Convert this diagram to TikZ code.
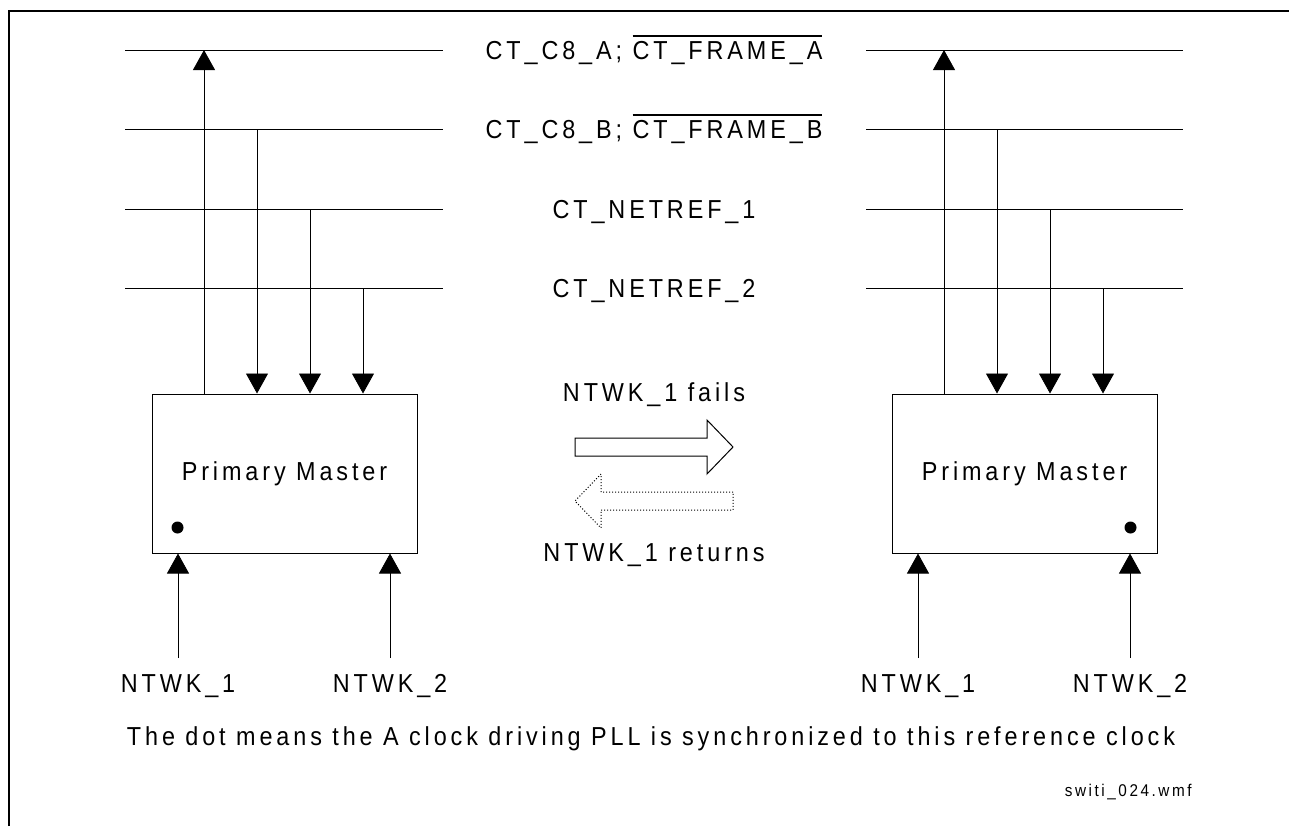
\documentclass[tikz,border=0pt]{standalone}
\usepackage{fontspec}
\setmainfont{Liberation Sans}[FakeStretch=0.9,LetterSpace=15]
\usetikzlibrary{arrows.meta,calc}

% bar over an active-low signal name
\newcommand\frameBar[1]{\setbox0\hbox{#1}%
  \rlap{\rule[\dimexpr\ht0+2pt\relax]{\wd0}{0.9pt}}\box0}

\begin{document}
\begin{tikzpicture}[x=0.5pt,y=-0.5pt]
  \tikzset{>={Triangle[length=10pt,width=11pt]}}
  \tikzset{
    sig/.style={font=\fontsize{13}{15}\selectfont,anchor=base,inner sep=0pt},
    master/.style={draw,line width=0.5pt,minimum width=132.5pt,
      minimum height=79.5pt,inner sep=0pt,font=\fontsize{13}{15}\selectfont},
    bus/.style={line width=0.5pt}
  }
  % page size and the frame (left and top only)
  \useasboundingbox (0,0) rectangle (1289,826);
  \draw[line width=1pt] (9,826) -- (9,11) -- (1289,11);

  % the four bus lines, each drawn on both sides of its name
  \foreach \y [count=\i] in {50,129,209,288} {
    \draw[bus] (125,\y) coordinate (busL\i) -- (443,\y);
    \draw[bus] (866,\y) coordinate (busR\i) -- (1183,\y);
  }
  \node[sig] (lblA) at (654,59) {CT\_C8\_A; \frameBar{CT\_FRAME\_A}};
  \node[sig] (lblB) at (654,138) {CT\_C8\_B; \frameBar{CT\_FRAME\_B}};
  \node[sig] (lblN1) at (654,218) {CT\_NETREF\_1};
  \node[sig] (lblN2) at (654,297) {CT\_NETREF\_2};

  % the two masters
  \node[master] (pmL) at (284.5,473.5) {Primary Master};
  \node[master] (pmR) at (1024.5,473.5) {Primary Master};
  % dot = PLL locked to this input
  \fill ($(pmL.south west)+(26,-26)$) circle (3pt);
  \fill ($(pmR.south east)+(-27,-26)$) circle (3pt);

  \foreach \s/\dx in {L/0,R/740} {
    % clock out to bus A
    \coordinate (up\s) at (204+\dx,50);
    \draw[->] (up\s |- pm\s.north) -- (up\s);
    % bus B, netref 1 and 2 in
    \foreach \x/\y [count=\k] in {257/129,310/209,363/288} {
      \coordinate (dn\s\k) at (\x+\dx,\y);
      \draw[->] (dn\s\k) -- (dn\s\k |- pm\s.north);
    }
    % network references
    \node[sig] (nw\s1) at (178+\dx,692) {NTWK\_1};
    \node[sig] (nw\s2) at (390+\dx,692) {NTWK\_2};
    \coordinate (in\s1) at (178+\dx,658);
    \coordinate (in\s2) at (390+\dx,658);
    \draw[->] (in\s1) -- (in\s1 |- pm\s.south);
    \draw[->] (in\s2) -- (in\s2 |- pm\s.south);
  }

  % what happens when NTWK_1 fails / comes back
  \node[sig] (fails) at (654,401) {NTWK\_1 fails};
  \draw[line width=0.5pt] (575,438) coordinate (failArr) -- ++(132,0) -- ++(0,-18)
    -- ++(26,27) -- ++(-26,27) -- ++(0,-18) -- ++(-132,0) -- cycle;
  \draw[line width=0.5pt,densely dotted] (733,492) coordinate (backArr) -- ++(-132,0)
    -- ++(0,-18) -- ++(-26,27) -- ++(26,27) -- ++(0,-18) -- ++(132,0) -- cycle;
  \node[sig] (returns) at (654,561) {NTWK\_1 returns};

  \node[sig] (note) at (651,745)
    {The dot means the A clock driving PLL is synchronized to this reference clock};
  \node[sig,anchor=base east,font=\fontsize{8.5}{10}\selectfont] (fname) at (1192,796)
    {switi\_024.wmf};
\end{tikzpicture}
\end{document}
